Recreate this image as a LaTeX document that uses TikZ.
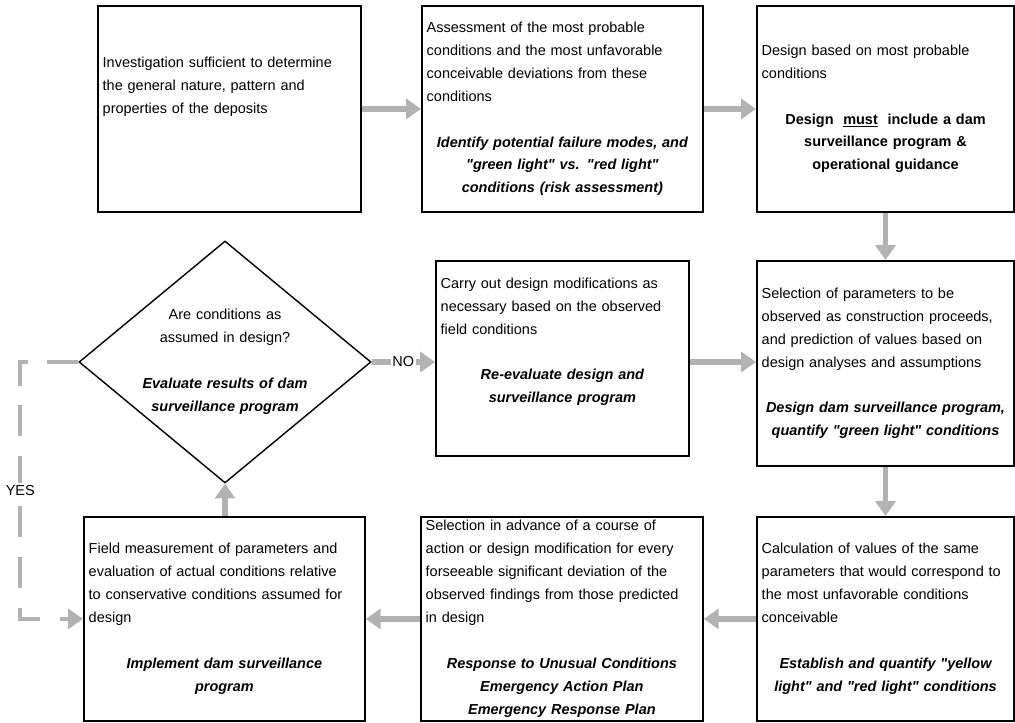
\documentclass[tikz,border=0pt]{standalone}
\usepackage{fontspec}
\setmainfont{Liberation Sans}[Ligatures=TeXOff]
\usetikzlibrary{shapes.geometric, arrows.meta, positioning}
\definecolor{flowgray}{RGB}{178,178,178}
\newcommand{\stagefont}{\fontsize{10.3}{16.3}\selectfont}
% plain paragraph, one empty line, then the centred bold-italic part
\newcommand{\stagetext}[2]{{\raggedright #1\par}\vspace{\baselineskip}{\centering\bfseries\itshape #2\par}}

\begin{document}
\begin{tikzpicture}[stage/.style={draw, line width=1.3pt, anchor=north west, inner xsep=0.12cm, inner ysep=0pt, font=\stagefont},
 decision/.style={draw, diamond, line width=1pt, minimum width=7.3cm, minimum height=6.05cm, inner sep=0pt},
 flow/.style={draw=flowgray, line width=4pt, -{Triangle[length=10.5pt, width=14pt]}},
 loopback/.style={flow, line width=3pt, dash pattern=on 22pt off 14pt}]
 \useasboundingbox (0,0) rectangle (25.375,18.075);
 \fill[white] (0,0) rectangle (25.375,18.075);

 % top row
 \node[stage, minimum width=6.575cm, minimum height=5.15cm, text width=6.335cm] (survey) at (2.425,17.95)
   {{\raggedright Investigation sufficient to determine\\ the general nature, pattern and\\ properties of the deposits\par}\vspace{1.1cm}\hrule height 0pt};
 \node[stage, minimum width=7.025cm, minimum height=5.15cm, text width=6.785cm] (assess) at (10.525,17.95)
   {\stagetext{Assessment of the most probable\\ conditions and the most unfavorable\\ conceivable deviations from these\\ conditions}{Identify potential failure modes, and\\ "green light" vs. "red light"\\ conditions (risk assessment)}};
 \node[stage, minimum width=6.43cm, minimum height=5.15cm, text width=6.19cm] (design) at (18.9,17.95)
   {{\raggedright Design based on most probable\\ conditions\par}\vspace{\baselineskip}{\centering\bfseries Design~ \underline{must}~ include a dam\\ surveillance program \&\\ operational guidance\par}};

 % middle row
 \node[decision] (check) at (5.625,9.025) {};
 \node[font=\stagefont, text width=4.8cm, align=center] (checktext) at (check.center)
   {Are conditions as\\ assumed in design?\\[\baselineskip] {\bfseries\itshape Evaluate results of dam\\ surveillance program}};
 \node[stage, minimum width=6.325cm, minimum height=4.875cm, text width=6.085cm] (modify) at (10.875,11.575)
   {\stagetext{Carry out design modifications as\\ necessary based on the observed\\ field conditions}{Re-evaluate design and\\ surveillance program}\vspace{0.83cm}\hrule height 0pt};
 \node[stage, minimum width=6.43cm, minimum height=5.125cm, text width=6.19cm] (params) at (18.9,11.575)
   {\stagetext{Selection of parameters to be\\ observed as construction proceeds,\\ and prediction of values based on\\ design analyses and assumptions}{Design dam surveillance program,\\ quantify "green light" conditions}};

 % bottom row
 \node[stage, minimum width=7.025cm, minimum height=5.1cm, text width=6.785cm] (measure) at (2.075,5.175)
   {\stagetext{Field measurement of parameters and\\ evaluation of actual conditions relative\\ to conservative conditions assumed for\\ design}{Implement dam surveillance\\ program}};
 \node[stage, minimum width=7.05cm, minimum height=5.1cm, text width=6.81cm] (response) at (10.5,5.175)
   {\stagetext{Selection in advance of a course of\\ action or design modification for every\\ forseeable significant deviation of the\\ observed findings from those predicted\\ in design}{Response to Unusual Conditions\\ Emergency Action Plan\\ Emergency Response Plan}};
 \node[stage, minimum width=6.43cm, minimum height=5.1cm, text width=6.19cm] (limits) at (18.9,5.175)
   {\stagetext{Calculation of values of the same\\ parameters that would correspond to\\ the most unfavorable conditions\\ conceivable}{Establish and quantify "yellow\\ light" and "red light" conditions}};

 % connectors
 \draw[flow] (survey.east) -- (assess.west);
 \draw[flow] (assess.east) -- (design.west);
 \draw[flow] (design.south) -- (params.north);
 \draw[flow] (params.south) -- (limits.north);
 \draw[flow] (limits.west) -- (response.east);
 \draw[flow] (response.west) -- (measure.east);
 \draw[flow] (check.south |- measure.north) -- (check.south);
 \draw[flow] (check.east) -- node[fill=white, inner sep=1pt, font=\stagefont]{NO} (check.east -| modify.west);
 \draw[flow] (check.east -| modify.east) -- (check.east -| params.west);
 \draw[loopback] (check.west) -- ++(-1.45,0) coordinate (yesturn)
   -- node[fill=white, inner sep=2pt, font=\stagefont]{YES} (yesturn |- measure.west) -- (measure.west);
\end{tikzpicture}
\end{document}
